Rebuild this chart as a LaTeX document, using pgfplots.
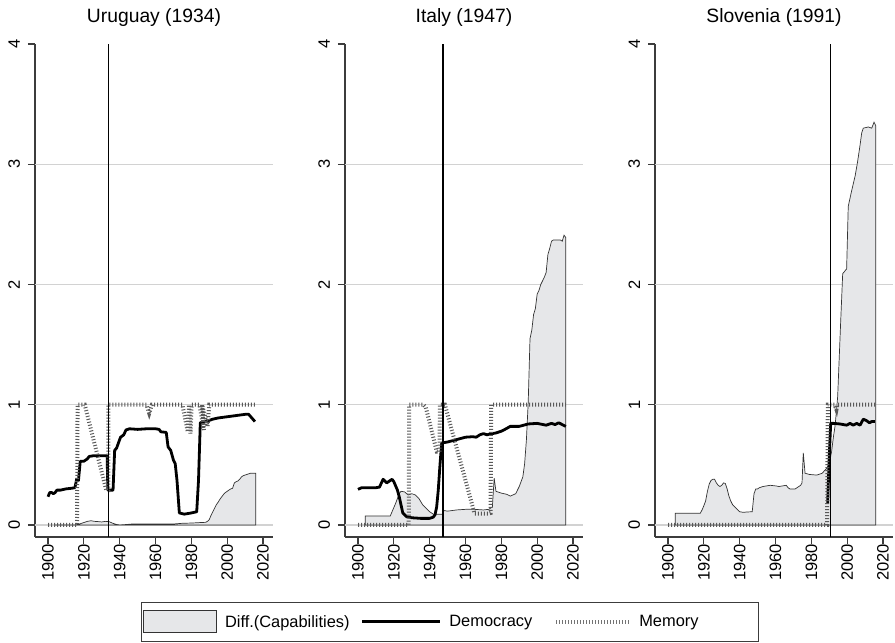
\documentclass[border=0pt]{standalone}
\usepackage{pgfplots}
\pgfplotsset{compat=1.18}
\usepackage{fontspec}
\setmainfont{Liberation Sans}
\definecolor{areafill}{RGB}{230,231,233}
\definecolor{gridc}{RGB}{210,210,210}
\definecolor{axc}{RGB}{60,60,60}
\pgfplotsset{
 panel/.style={
  scale only axis, width=238pt, height=493pt,
  xmin=1892.74, xmax=2025.58, ymin=-0.1, ymax=4,
  axis x line*=bottom, axis y line*=left,
  axis line style={axc, line width=1.2pt},
  xtick={1900,1920,...,2020}, ytick={0,1,2,3,4},
  tick align=outside, major tick length=7pt, tick style={axc, line width=1.2pt},
  /pgf/number format/assume math mode=true,
  /pgf/number format/1000 sep={},
  xticklabel style={rotate=90, anchor=east, font=\fontsize{16.5}{18}\selectfont, inner sep=0pt, outer sep=0pt},
  yticklabel style={rotate=90, anchor=south, font=\fontsize{16.5}{18}\selectfont, inner sep=8pt, outer sep=0pt},
  title style={font=\fontsize{19.3}{22}\selectfont, at={(0.5,1)}, anchor=base, yshift=15pt, inner sep=0pt},
 },
 gridl/.style={gridc, line width=1.2pt, forget plot},
 cap/.style={fill=areafill, draw=black!80, line width=0.7pt},
 dem/.style={black, line width=2.8pt, line join=round},
 mem/.style={black!65, line width=4pt, dash pattern=on 1pt off 2pt},
 tline/.style={black, line width=1.6pt, forget plot},
 capimg/.style={legend image code/.code={\draw[fill=areafill, draw=black!80, line width=0.7pt] (0pt,-11pt) rectangle (73pt,11pt);}},
 demimg/.style={legend image code/.code={\draw[black, line width=2.8pt] (0pt,0pt) -- (78pt,0pt);}},
 memimg/.style={legend image code/.code={\draw[black!55, line width=4pt, dash pattern=on 1pt off 2pt] (0pt,0pt) -- (73pt,0pt);}},
}
\begin{document}
\begin{tikzpicture}[x=1pt,y=1pt]
\useasboundingbox (0,0) rectangle (895,643);
% ---------------- Uruguay
\begin{axis}[panel, at={(35pt,106pt)}, anchor=south west, title={Uruguay (1934)}]
\addplot[gridl] coordinates {(1892.74,0)(2025.58,0)};
\addplot[gridl] coordinates {(1892.74,1)(2025.58,1)};
\addplot[gridl] coordinates {(1892.74,2)(2025.58,2)};
\addplot[gridl] coordinates {(1892.74,3)(2025.58,3)};
\addplot[cap] coordinates {(1904,0)(1915,0)(1917,0.005)(1920,0.02)(1922,0.03)(1924,0.035)(1926,0.03)(1928,0.028)(1930,0.025)(1932,0.03)(1934,0.028)(1936,0.015)(1938,0.005)(1940,0.0)(1944,0.004)(1947,0.008)(1950,0.008)(1960,0.008)(1970,0.008)(1975,0.014)(1980,0.016)(1985,0.02)(1988,0.022)(1989,0.03)(1990,0.045)(1991,0.08)(1992,0.11)(1993,0.14)(1994,0.17)(1995,0.19)(1996,0.215)(1997,0.235)(1998,0.255)(1999,0.27)(2000,0.28)(2001,0.29)(2002,0.3)(2003,0.305)(2004,0.35)(2005,0.36)(2006,0.366)(2007,0.38)(2008,0.40)(2009,0.41)(2010,0.415)(2011,0.42)(2012,0.425)(2013,0.43)(2014,0.43)(2015,0.43)(2016,0.43)} \closedcycle;
\addplot[dem] coordinates {(1900,0.235)(1901,0.27)(1902,0.27)(1903,0.26)(1904,0.27)(1905,0.29)(1907,0.29)(1910,0.30)(1913,0.305)(1915,0.31)(1916,0.38)(1917,0.37)(1918,0.53)(1920,0.53)(1922,0.55)(1923,0.57)(1925,0.575)(1930,0.575)(1933,0.575)(1933.4,0.29)(1936.3,0.29)(1937.2,0.62)(1938.3,0.64)(1939.5,0.69)(1940.5,0.73)(1942.3,0.75)(1943.5,0.79)(1945.5,0.80)(1950,0.795)(1955,0.80)(1960,0.80)(1962,0.795)(1963,0.775)(1966,0.77)(1967,0.65)(1968.5,0.62)(1970,0.54)(1971,0.51)(1972,0.37)(1973.3,0.10)(1976,0.09)(1980,0.10)(1983,0.11)(1984,0.37)(1985,0.85)(1987,0.86)(1990,0.87)(1992,0.88)(1995,0.89)(2000,0.90)(2005,0.91)(2010,0.92)(2012,0.92)(2015.5,0.86)};
\addplot[mem] coordinates {(1900,0)(1916.2,0)(1916.5,1)(1920.5,1)(1932.5,0.29)(1933.7,0.29)(1933.7,1)(1955,1)(1956.5,0.93)(1958,1)(1975,1)(1978,0.775)(1978.7,1)(1979.5,0.76)(1980.2,1)(1984.5,1)(1987,0.79)(1986,1)(1989,0.82)(1990,1)(2016,1)};
\addplot[tline] coordinates {(1933.8,-0.1)(1933.8,4)};
\end{axis}
% ---------------- Italy
\begin{axis}[panel, at={(345pt,106pt)}, anchor=south west, title={Italy (1947)},
  legend columns=3,
  legend style={at={(0.441,-0.1318)}, anchor=north, draw=axc, line width=1pt,
    font=\fontsize{16.4}{18}\selectfont, inner xsep=2pt, inner ysep=8pt,
    /tikz/every odd column/.append style={column sep=8pt},
    /tikz/every even column/.append style={column sep=11pt},
    nodes={inner sep=0pt}},
  ]
\addplot[gridl] coordinates {(1892.74,0)(2025.58,0)};
\addplot[gridl] coordinates {(1892.74,1)(2025.58,1)};
\addplot[gridl] coordinates {(1892.74,2)(2025.58,2)};
\addplot[gridl] coordinates {(1892.74,3)(2025.58,3)};
\addplot[cap, capimg] coordinates {(1904,0.075)(1918,0.075)(1919,0.11)(1921,0.18)(1923,0.26)(1924,0.28)(1926,0.275)(1928,0.25)(1930,0.26)(1932,0.25)(1934,0.22)(1936,0.17)(1938,0.14)(1940,0.11)(1942,0.09)(1945,0.09)(1947,0.09)(1948,0.12)(1950,0.115)(1955,0.125)(1960,0.13)(1965,0.13)(1970,0.125)(1973,0.13)(1975,0.15)(1976,0.39)(1977,0.28)(1980,0.265)(1983,0.255)(1985,0.24)(1988,0.26)(1990,0.32)(1992,0.40)(1993,0.51)(1994,0.71)(1995,1.02)(1996,1.55)(1997,1.62)(1998,1.75)(1999,1.8)(2000,1.92)(2001,1.95)(2002,2.0)(2003,2.03)(2004,2.06)(2005,2.1)(2006,2.25)(2007,2.3)(2008,2.36)(2009,2.37)(2010,2.37)(2011,2.37)(2012,2.37)(2013,2.37)(2014,2.36)(2015,2.41)(2016,2.39)} \closedcycle;
\addlegendentry{Diff.(Capabilities)}
\addplot[dem, demimg] coordinates {(1900,0.296)(1902,0.31)(1905,0.31)(1910,0.31)(1912,0.315)(1914,0.38)(1916,0.35)(1918,0.37)(1919,0.38)(1920,0.36)(1922,0.29)(1923,0.235)(1925,0.10)(1927,0.07)(1930,0.06)(1935,0.055)(1940,0.055)(1942,0.065)(1943,0.085)(1943.9,0.15)(1944.8,0.29)(1945.8,0.51)(1946.7,0.68)(1948,0.685)(1950,0.69)(1955,0.71)(1960,0.73)(1964,0.734)(1966,0.73)(1968,0.75)(1970,0.76)(1972,0.75)(1975,0.76)(1977,0.765)(1980,0.78)(1982,0.795)(1985,0.82)(1990,0.82)(1995,0.84)(2000,0.845)(2005,0.83)(2008,0.845)(2010,0.835)(2012,0.85)(2014,0.835)(2016,0.82)};
\addlegendentry{Democracy\hspace*{11pt}\mbox{}}
\addplot[mem, memimg] coordinates {(1900,0)(1928.3,0)(1928.6,1)(1936.5,1)(1937.8,0.98)(1944,0.61)(1945.5,0.61)(1945.7,1)(1948.5,1)(1964.4,0.13)(1965,0.095)(1972.7,0.095)(1974,0.1)(1974.3,1)(2016,1)};
\addlegendentry{Memory\hspace*{58pt}\mbox{}}
\addplot[tline] coordinates {(1947.6,-0.1)(1947.6,4)};
\end{axis}
% ---------------- Slovenia
\begin{axis}[panel, at={(655pt,106pt)}, anchor=south west, title={Slovenia (1991)}]
\addplot[gridl] coordinates {(1892.74,0)(2025.58,0)};
\addplot[gridl] coordinates {(1892.74,1)(2025.58,1)};
\addplot[gridl] coordinates {(1892.74,2)(2025.58,2)};
\addplot[gridl] coordinates {(1892.74,3)(2025.58,3)};
\addplot[cap] coordinates {(1904,0.097)(1918,0.097)(1919,0.125)(1920,0.16)(1921,0.2)(1922,0.28)(1923,0.34)(1924,0.37)(1925,0.38)(1926,0.38)(1927,0.35)(1928,0.33)(1929,0.32)(1930,0.33)(1931,0.35)(1932,0.345)(1933,0.3)(1934,0.24)(1935,0.2)(1936,0.17)(1937,0.155)(1938,0.14)(1940,0.11)(1942,0.105)(1944,0.108)(1947,0.11)(1948,0.26)(1949,0.30)(1950,0.30)(1951,0.31)(1953,0.32)(1957,0.33)(1960,0.325)(1962,0.32)(1966,0.33)(1967,0.31)(1968,0.30)(1971,0.30)(1972,0.31)(1974,0.33)(1974.8,0.35)(1975.5,0.60)(1976.5,0.43)(1979,0.42)(1983,0.415)(1986,0.43)(1988.5,0.47)(1990,0.51)(1991.3,0.61)(1992.3,0.73)(1993.2,0.82)(1994.1,0.96)(1994.7,1.07)(1996.4,1.70)(1997.5,2.09)(1999.7,2.13)(2000.6,2.65)(2002.5,2.78)(2004.4,2.90)(2005.7,3.01)(2007.2,3.16)(2008.1,3.26)(2009,3.30)(2011.8,3.31)(2013.7,3.30)(2015,3.35)(2016,3.32)} \closedcycle;
\addplot[dem] coordinates {(1989.1,0.18)(1990,0.57)(1990.8,0.845)(1992.3,0.845)(1996,0.84)(1999.7,0.83)(2001.6,0.845)(2003.4,0.83)(2005.3,0.845)(2007.2,0.83)(2009,0.88)(2010.9,0.867)(2012.4,0.85)(2013.7,0.86)(2015.5,0.86)};
\addplot[mem] coordinates {(1900,0)(1988.8,0)(1989.2,1)(1993,1)(1994,0.96)(1994.5,1)(2016,1)};
\addplot[tline] coordinates {(1990.8,-0.1)(1990.8,4)};
\end{axis}
\end{tikzpicture}
\end{document}
